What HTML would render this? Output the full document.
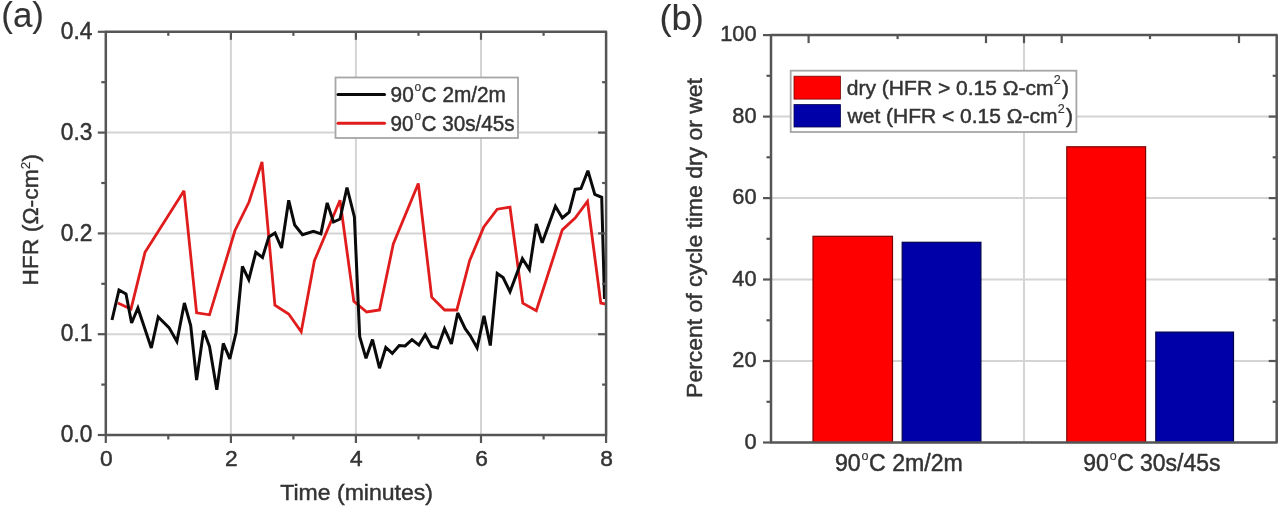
<!DOCTYPE html>
<html><head><meta charset="utf-8"><style>
html,body{margin:0;padding:0;background:#fff;}
svg{display:block;filter:blur(0.45px);}
text{font-family:"Liberation Sans",sans-serif;fill:#333333;stroke:#333333;stroke-width:0.45px;}
tspan[font-size]{stroke-width:0.15px;}
</style></head><body>
<svg width="1280" height="507" viewBox="0 0 1280 507">
<rect width="1280" height="507" fill="#fff"/>
<line x1="230.9" y1="31.8" x2="230.9" y2="435.0" stroke="#d4d4d4" stroke-width="2"/>
<line x1="355.9" y1="31.8" x2="355.9" y2="435.0" stroke="#d4d4d4" stroke-width="2"/>
<line x1="481.0" y1="31.8" x2="481.0" y2="435.0" stroke="#d4d4d4" stroke-width="2"/>
<line x1="105.8" y1="334.2" x2="606.1" y2="334.2" stroke="#d4d4d4" stroke-width="2"/>
<line x1="105.8" y1="233.4" x2="606.1" y2="233.4" stroke="#d4d4d4" stroke-width="2"/>
<line x1="105.8" y1="132.6" x2="606.1" y2="132.6" stroke="#d4d4d4" stroke-width="2"/>
<polyline points="117.8,303.0 131.0,309.0 145.0,252.3 184.0,190.8 196.6,312.8 209.5,314.8 235.0,230.5 249.0,202.0 262.0,162.0 274.9,305.1 288.7,314.0 301.2,331.7 314.4,260.7 340.0,200.3 353.8,301.2 366.7,312.0 379.5,310.0 393.3,244.0 418.3,183.5 431.7,297.2 444.6,310.0 456.8,310.0 469.6,260.7 483.8,226.9 497.2,209.2 510.0,207.2 522.8,303.1 536.3,310.6 562.3,229.9 575.1,218.0 587.5,201.3 600.8,303.1 605.7,304.0" fill="none" stroke="#e01c1c" stroke-width="2.8" stroke-linejoin="miter" stroke-miterlimit="3"/>
<polyline points="112.0,320.0 119.0,290.0 126.0,294.0 131.6,323.0 137.9,308.0 151.3,348.0 158.2,317.0 169.0,327.6 176.9,341.4 184.4,303.0 190.7,325.6 196.6,380.0 203.6,330.6 209.5,346.4 216.8,389.7 223.3,343.4 229.8,358.8 236.1,332.5 242.4,266.4 248.8,279.7 255.8,252.3 262.5,257.4 268.8,237.0 275.0,233.0 281.5,248.0 288.7,200.3 294.7,225.0 302.5,234.8 313.4,231.3 320.9,233.8 327.2,202.9 333.5,222.0 340.0,219.0 347.0,187.5 354.4,217.0 359.7,336.6 366.0,358.3 372.5,339.6 379.5,368.2 385.8,347.5 392.3,353.4 399.2,345.5 405.1,345.9 412.0,339.6 418.9,345.1 425.2,334.7 431.7,346.5 437.6,347.9 444.5,328.7 451.4,343.9 457.7,313.0 465.2,328.7 470.2,335.6 477.1,347.9 484.0,315.9 490.3,345.5 497.2,273.5 503.1,277.5 510.0,291.7 522.4,258.7 529.4,269.6 536.3,224.0 542.2,242.7 555.4,206.2 562.3,218.0 569.2,212.1 575.1,189.4 581.0,188.5 587.9,170.7 594.8,194.4 601.7,197.3 604.5,299.0" fill="none" stroke="#0a0a0a" stroke-width="3" stroke-linejoin="miter" stroke-miterlimit="3"/>
<rect x="335.5" y="77.5" width="182.5" height="60.5" fill="#fff" stroke="#a6a6a6" stroke-width="1.8"/>
<line x1="338" y1="94.4" x2="384.5" y2="94.4" stroke="#0a0a0a" stroke-width="3" stroke-linecap="round"/>
<line x1="338" y1="123.3" x2="384.5" y2="123.3" stroke="#e01c1c" stroke-width="3" stroke-linecap="round"/>
<line x1="105.8" y1="435.0" x2="105.8" y2="443.0" stroke="#555555" stroke-width="2.2"/>
<line x1="230.9" y1="435.0" x2="230.9" y2="443.0" stroke="#555555" stroke-width="2.2"/>
<line x1="355.9" y1="435.0" x2="355.9" y2="443.0" stroke="#555555" stroke-width="2.2"/>
<line x1="481.0" y1="435.0" x2="481.0" y2="443.0" stroke="#555555" stroke-width="2.2"/>
<line x1="606.1" y1="435.0" x2="606.1" y2="443.0" stroke="#555555" stroke-width="2.2"/>
<line x1="168.3" y1="435.0" x2="168.3" y2="439.5" stroke="#555555" stroke-width="2.2"/>
<line x1="293.4" y1="435.0" x2="293.4" y2="439.5" stroke="#555555" stroke-width="2.2"/>
<line x1="418.5" y1="435.0" x2="418.5" y2="439.5" stroke="#555555" stroke-width="2.2"/>
<line x1="543.6" y1="435.0" x2="543.6" y2="439.5" stroke="#555555" stroke-width="2.2"/>
<line x1="230.9" y1="31.8" x2="230.9" y2="39.8" stroke="#555555" stroke-width="2.2"/>
<line x1="355.9" y1="31.8" x2="355.9" y2="39.8" stroke="#555555" stroke-width="2.2"/>
<line x1="481.0" y1="31.8" x2="481.0" y2="39.8" stroke="#555555" stroke-width="2.2"/>
<line x1="168.3" y1="31.8" x2="168.3" y2="35.8" stroke="#555555" stroke-width="2.2"/>
<line x1="293.4" y1="31.8" x2="293.4" y2="35.8" stroke="#555555" stroke-width="2.2"/>
<line x1="418.5" y1="31.8" x2="418.5" y2="35.8" stroke="#555555" stroke-width="2.2"/>
<line x1="543.6" y1="31.8" x2="543.6" y2="35.8" stroke="#555555" stroke-width="2.2"/>
<line x1="105.8" y1="435.0" x2="97.8" y2="435.0" stroke="#555555" stroke-width="2.2"/>
<line x1="105.8" y1="334.2" x2="97.8" y2="334.2" stroke="#555555" stroke-width="2.2"/>
<line x1="105.8" y1="233.4" x2="97.8" y2="233.4" stroke="#555555" stroke-width="2.2"/>
<line x1="105.8" y1="132.6" x2="97.8" y2="132.6" stroke="#555555" stroke-width="2.2"/>
<line x1="105.8" y1="31.8" x2="97.8" y2="31.8" stroke="#555555" stroke-width="2.2"/>
<line x1="105.8" y1="384.6" x2="101.3" y2="384.6" stroke="#555555" stroke-width="2.2"/>
<line x1="105.8" y1="283.8" x2="101.3" y2="283.8" stroke="#555555" stroke-width="2.2"/>
<line x1="105.8" y1="183.0" x2="101.3" y2="183.0" stroke="#555555" stroke-width="2.2"/>
<line x1="105.8" y1="82.2" x2="101.3" y2="82.2" stroke="#555555" stroke-width="2.2"/>
<line x1="606.1" y1="334.2" x2="598.1" y2="334.2" stroke="#555555" stroke-width="2.2"/>
<line x1="606.1" y1="233.4" x2="598.1" y2="233.4" stroke="#555555" stroke-width="2.2"/>
<line x1="606.1" y1="132.6" x2="598.1" y2="132.6" stroke="#555555" stroke-width="2.2"/>
<line x1="606.1" y1="384.6" x2="602.1" y2="384.6" stroke="#555555" stroke-width="2.2"/>
<line x1="606.1" y1="283.8" x2="602.1" y2="283.8" stroke="#555555" stroke-width="2.2"/>
<line x1="606.1" y1="183.0" x2="602.1" y2="183.0" stroke="#555555" stroke-width="2.2"/>
<line x1="606.1" y1="82.2" x2="602.1" y2="82.2" stroke="#555555" stroke-width="2.2"/>
<rect x="105.8" y="31.8" width="500.3" height="403.2" fill="none" stroke="#555555" stroke-width="2.5" stroke-linejoin="round"/>
<line x1="771.0" y1="361.0" x2="1276.7" y2="361.0" stroke="#d4d4d4" stroke-width="2"/>
<line x1="771.0" y1="279.5" x2="1276.7" y2="279.5" stroke="#d4d4d4" stroke-width="2"/>
<line x1="771.0" y1="198.1" x2="1276.7" y2="198.1" stroke="#d4d4d4" stroke-width="2"/>
<line x1="771.0" y1="116.6" x2="1276.7" y2="116.6" stroke="#d4d4d4" stroke-width="2"/>
<line x1="1024" y1="35.1" x2="1024" y2="442.5" stroke="#d4d4d4" stroke-width="2"/>
<rect x="813.0" y="236.3" width="79.5" height="206.2" fill="#ff0000" stroke="#7a0000" stroke-width="1.2"/>
<rect x="902.2" y="242.3" width="78.7" height="200.2" fill="#0000a8" stroke="#00004a" stroke-width="1.2"/>
<rect x="1066.8" y="146.8" width="78.8" height="295.7" fill="#ff0000" stroke="#7a0000" stroke-width="1.2"/>
<rect x="1155.8" y="332.1" width="77.7" height="110.4" fill="#0000a8" stroke="#00004a" stroke-width="1.2"/>
<line x1="771.0" y1="442.5" x2="763.0" y2="442.5" stroke="#555555" stroke-width="2.2"/>
<line x1="771.0" y1="361.0" x2="763.0" y2="361.0" stroke="#555555" stroke-width="2.2"/>
<line x1="771.0" y1="279.5" x2="763.0" y2="279.5" stroke="#555555" stroke-width="2.2"/>
<line x1="771.0" y1="198.1" x2="763.0" y2="198.1" stroke="#555555" stroke-width="2.2"/>
<line x1="771.0" y1="116.6" x2="763.0" y2="116.6" stroke="#555555" stroke-width="2.2"/>
<line x1="771.0" y1="35.1" x2="763.0" y2="35.1" stroke="#555555" stroke-width="2.2"/>
<line x1="771.0" y1="401.8" x2="766.5" y2="401.8" stroke="#555555" stroke-width="2.2"/>
<line x1="771.0" y1="320.3" x2="766.5" y2="320.3" stroke="#555555" stroke-width="2.2"/>
<line x1="771.0" y1="238.8" x2="766.5" y2="238.8" stroke="#555555" stroke-width="2.2"/>
<line x1="771.0" y1="157.3" x2="766.5" y2="157.3" stroke="#555555" stroke-width="2.2"/>
<line x1="771.0" y1="75.8" x2="766.5" y2="75.8" stroke="#555555" stroke-width="2.2"/>
<line x1="1276.7" y1="361.0" x2="1268.7" y2="361.0" stroke="#555555" stroke-width="2.2"/>
<line x1="1276.7" y1="279.5" x2="1268.7" y2="279.5" stroke="#555555" stroke-width="2.2"/>
<line x1="1276.7" y1="198.1" x2="1268.7" y2="198.1" stroke="#555555" stroke-width="2.2"/>
<line x1="1276.7" y1="116.6" x2="1268.7" y2="116.6" stroke="#555555" stroke-width="2.2"/>
<line x1="1276.7" y1="401.8" x2="1272.7" y2="401.8" stroke="#555555" stroke-width="2.2"/>
<line x1="1276.7" y1="320.3" x2="1272.7" y2="320.3" stroke="#555555" stroke-width="2.2"/>
<line x1="1276.7" y1="238.8" x2="1272.7" y2="238.8" stroke="#555555" stroke-width="2.2"/>
<line x1="1276.7" y1="157.3" x2="1272.7" y2="157.3" stroke="#555555" stroke-width="2.2"/>
<line x1="1276.7" y1="75.8" x2="1272.7" y2="75.8" stroke="#555555" stroke-width="2.2"/>
<line x1="808.6" y1="35.1" x2="808.6" y2="43.1" stroke="#555555" stroke-width="2.2"/>
<line x1="986.0" y1="35.1" x2="986.0" y2="43.1" stroke="#555555" stroke-width="2.2"/>
<line x1="1024.0" y1="35.1" x2="1024.0" y2="43.1" stroke="#555555" stroke-width="2.2"/>
<line x1="1061.7" y1="35.1" x2="1061.7" y2="43.1" stroke="#555555" stroke-width="2.2"/>
<line x1="1239.0" y1="35.1" x2="1239.0" y2="43.1" stroke="#555555" stroke-width="2.2"/>
<line x1="897.6" y1="35.1" x2="897.6" y2="39.1" stroke="#555555" stroke-width="2.2"/>
<line x1="1150.0" y1="35.1" x2="1150.0" y2="39.1" stroke="#555555" stroke-width="2.2"/>
<rect x="771.0" y="35.1" width="505.7" height="407.4" fill="none" stroke="#555555" stroke-width="2.5" stroke-linejoin="round"/>
<rect x="790.7" y="70.7" width="285.7" height="61.3" fill="#fff" stroke="#a6a6a6" stroke-width="1.8"/>
<rect x="794" y="76.2" width="46.4" height="22.9" fill="#ff0000" stroke="#7a0000" stroke-width="0.8"/>
<rect x="794" y="104.6" width="46.4" height="22.4" fill="#0000a8" stroke="#00004a" stroke-width="0.8"/>
<text transform="translate(1.26,26.97) scale(1.0290,1.0260)" font-size="34" style="stroke-width:0.1px">(a)</text>
<text transform="translate(659.48,30.12) scale(1.0692,1.0394)" font-size="34" style="stroke-width:0.1px">(b)</text>
<text transform="translate(60.76,442.12) scale(1.0331,1.0844)" font-size="22">0.0</text>
<text transform="translate(60.76,341.32) scale(1.0331,1.0844)" font-size="22">0.1</text>
<text transform="translate(60.76,240.52) scale(1.0331,1.0844)" font-size="22">0.2</text>
<text transform="translate(60.76,139.72) scale(1.0331,1.0844)" font-size="22">0.3</text>
<text transform="translate(60.76,38.92) scale(1.0331,1.0844)" font-size="22">0.4</text>
<text transform="translate(99.96,466.20) scale(1.0350,1.0417)" font-size="22">0</text>
<text transform="translate(225.04,466.20) scale(1.0350,1.0417)" font-size="22">2</text>
<text transform="translate(350.11,466.20) scale(1.0350,1.0417)" font-size="22">4</text>
<text transform="translate(475.19,466.20) scale(1.0350,1.0417)" font-size="22">6</text>
<text transform="translate(600.26,466.20) scale(1.0350,1.0417)" font-size="22">8</text>
<text transform="translate(280.31,499.66) scale(1.0467,0.9865)" font-size="22">Time (minutes)</text>
<text transform="translate(37.85,285.72) rotate(-90) scale(1.0432,1.0118)" font-size="22">HFR (&#937;-cm<tspan font-size="13" dy="-8">2</tspan><tspan dy="8">)</tspan></text>
<text transform="translate(756.56,448.82) scale(0.9914,1.0110)" font-size="22" text-anchor="end">0</text>
<text transform="translate(756.56,367.34) scale(0.9914,1.0110)" font-size="22" text-anchor="end">20</text>
<text transform="translate(756.56,285.86) scale(0.9914,1.0110)" font-size="22" text-anchor="end">40</text>
<text transform="translate(756.56,204.38) scale(0.9914,1.0110)" font-size="22" text-anchor="end">60</text>
<text transform="translate(756.56,122.90) scale(0.9914,1.0110)" font-size="22" text-anchor="end">80</text>
<text transform="translate(756.56,41.42) scale(0.9914,1.0110)" font-size="22" text-anchor="end">100</text>
<text transform="translate(835.02,470.91) scale(1.0510,1.0530)" font-size="22">90<tspan font-size="12" dy="-10.5" dx="0.8">o</tspan><tspan dy="10.5" dx="0.5">C 2m/2m</tspan></text>
<text transform="translate(1083.29,470.91) scale(1.0431,1.0530)" font-size="22">90<tspan font-size="12" dy="-10.5" dx="0.8">o</tspan><tspan dy="10.5" dx="0.5">C 30s/45s</tspan></text>
<text transform="translate(702.43,397.90) rotate(-90) scale(1.1466,1.1053)" font-size="20">Percent of cycle time dry or wet</text>
<text transform="translate(390.59,101.72) scale(0.9907,1.0463)" font-size="21">90<tspan font-size="12" dy="-10" dx="0.8">o</tspan><tspan dy="10" dx="0.5">C 2m/2m</tspan></text>
<text transform="translate(390.61,130.72) scale(0.9860,1.0463)" font-size="21">90<tspan font-size="12" dy="-10" dx="0.8">o</tspan><tspan dy="10" dx="0.5">C 30s/45s</tspan></text>
<text transform="translate(846.81,94.63) scale(1.0522,1.0009)" font-size="20">dry (HFR &gt; 0.15 &#937;-cm<tspan font-size="12" dy="-10.5" dx="0.3">2</tspan><tspan dy="10.5" dx="1.2">)</tspan></text>
<text transform="translate(847.61,123.03) scale(1.0496,1.0009)" font-size="20">wet (HFR &lt; 0.15 &#937;-cm<tspan font-size="12" dy="-10.5" dx="0.3">2</tspan><tspan dy="10.5" dx="1.2">)</tspan></text>
</svg>
</body></html>
